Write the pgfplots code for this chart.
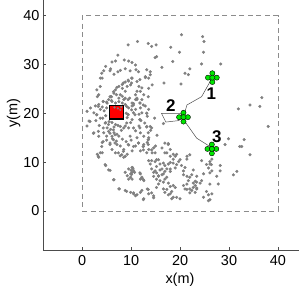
\documentclass[border=0pt]{standalone}
\usepackage{pgfplots}
\pgfplotsset{compat=1.18}
\usepackage{pgfplotstable}
\usepackage{fontspec}
\setmainfont{Liberation Sans}
\pgfplotstableread{
x y
14.2 10.3
15.2 10.5
15.9 9.6
16.3 8.6
17.3 8.6
16.9 9.3
16.6 7.6
15.6 7.2
15.2 6.5
15.9 6.2
16.9 6.5
17.3 6.9
16.6 5.9
15.6 5.5
15.2 4.8
16.6 4.5
16.9 3.8
18.0 3.5
18.6 2.8
18.3 2.5
19.3 2.8
20.0 2.5
14.6 3.1
17.6 9.6
18.0 8.6
18.6 10.6
18.0 9.9
20.3 9.3
20.7 8.2
21.0 8.9
21.4 10.6
24.4 10.3
26.5 10.6
26.1 9.6
28.2 9.3
28.2 8.2
26.5 8.2
24.8 7.6
24.4 6.2
23.4 5.9
23.1 5.2
22.0 6.9
21.7 6.2
21.4 5.5
20.7 5.2
21.0 4.5
22.0 4.5
22.4 4.2
22.7 4.8
23.4 4.5
23.1 3.8
26.1 5.5
27.8 5.5
24.8 2.8
25.8 2.1
26.5 3.5
19.0 4.8
18.6 5.2
14.2 8.6
14.6 7.9
14.9 8.2
3.4 11.0
7.8 11.3
8.5 11.0
4.8 9.3
5.4 8.4
6.5 6.4
8.8 7.9
9.5 8.6
10.2 8.9
9.9 7.6
10.5 8.2
9.2 7.2
9.5 6.5
9.9 6.9
10.2 7.9
10.2 6.5
11.9 7.6
12.2 6.9
12.6 6.2
11.9 6.5
7.5 4.5
8.8 4.2
9.9 3.8
10.5 3.5
10.9 3.1
11.9 3.8
12.2 4.2
12.6 2.5
13.3 4.5
13.6 10.3
13.9 9.6
13.6 3.5
2.7 21.5
3.4 21.8
4.1 21.3
3.7 20.8
9.5 21.1
10.2 21.5
10.9 20.8
11.9 21.1
12.9 21.5
13.6 20.8
10.5 20.1
11.6 19.8
12.2 20.1
13.3 19.4
9.2 19.1
10.2 18.7
9.9 18.1
8.8 17.4
9.5 17.0
10.5 17.0
11.6 17.4
10.9 16.4
11.9 16.0
12.6 15.3
13.6 15.0
4.8 18.1
5.4 17.7
6.1 18.1
6.8 17.7
5.1 17.0
5.8 16.7
6.5 16.0
7.1 15.7
7.5 15.3
6.1 15.3
8.2 14.7
7.8 13.3
8.5 12.6
4.4 16.0
2.4 16.0
1.4 18.4
1.0 17.4
3.4 15.3
4.1 14.0
3.1 11.6
4.1 11.9
9.2 11.6
10.2 12.3
10.9 13.3
12.6 13.6
13.3 14.0
13.6 12.6
11.9 12.3
14.3 11.9
1.7 21.1
1.0 20.4
2.4 20.1
8.8 21.8
6.8 11.9
6.1 12.6
4.5 20.5
4.8 19.5
5.0 22.3
6.0 22.6
7.5 22.4
8.5 22.8
9.0 20.0
9.3 19.8
4.2 19.0
5.5 18.3
6.5 17.2
7.3 17.5
8.0 16.5
8.5 17.0
6.2 14.8
7.0 14.3
5.0 14.5
3.5 17.5
2.8 18.5
3.0 19.7
8.2 23.5
9.7 23.1
7.0 23.8
5.8 23.4
4.3 22.4
10.5 22.0
11.2 22.8
11.8 22.1
12.5 21.7
12.0 18.5
12.8 18.0
13.2 17.2
14.0 16.5
13.5 16.0
11.2 15.0
10.0 14.5
9.0 14.2
9.5 13.5
7.3 31.9
6.8 30.7
6.1 30.5
8.6 30.9
9.5 30.7
10.2 30.4
10.9 29.9
4.8 29.6
4.4 28.7
5.8 29.1
7.3 28.5
8.8 29.1
11.0 28.9
6.5 28.0
4.1 27.2
12.9 27.3
13.6 27.2
10.2 27.2
9.5 26.6
8.8 26.4
8.2 25.9
7.5 25.5
6.8 24.8
6.5 24.1
6.0 23.4
5.4 22.8
5.1 22.1
8.2 25.1
8.8 24.5
9.2 25.5
9.9 25.8
11.2 26.5
11.6 25.5
10.9 23.8
11.9 24.5
7.5 23.1
8.8 23.1
7.8 23.8
3.7 25.5
3.1 23.4
3.4 23.8
6.1 22.4
6.8 22.1
8.2 22.1
10.2 22.1
10.9 22.8
12.2 22.8
12.6 23.8
13.6 25.1
14.3 25.8
14.2 33.7
15.2 31.6
14.9 31.4
18.1 33.5
19.9 32.5
24.8 32.5
18.5 30.6
16.3 29.4
24.4 30.1
22.0 29.1
21.0 28.2
21.7 27.9
16.7 26.2
20.2 26.0
13.9 28.5
13.9 27.9
20.3 36.1
24.6 35.7
24.9 34.7
15.1 34.0
11.3 34.7
9.4 34.0
13.5 34.3
28.3 30.1
36.7 23.2
34.3 21.7
31.9 20.9
36.3 21.4
38.0 17.3
29.9 14.8
33.1 14.6
32.6 13.2
13.9 17.3
14.2 12.5
14.9 11.9
16.3 12.9
17.6 13.8
16.9 11.9
18.0 11.2
19.0 11.2
21.4 11.2
22.0 11.5
29.2 13.6
32.2 13.2
34.3 11.5
31.6 8.1
30.9 7.4
27.5 7.1
3.7 11.9
5.7 13.6
6.7 13.9
9.4 13.6
10.5 13.2
7.4 11.9
8.4 12.2
13.2 11.9
12.5 12.5
13.5 13.6
14.2 17.0
14.6 12.9
15.0 13.3
16.9 13.9
17.6 13.6
18.0 12.6
17.3 11.9
18.6 11.6
19.3 11.6
16.6 17.9
15.3 15.5
14.8 19.0
13.5 23.4
13.2 20.0
13.2 17.3
11.8 17.0
11.8 18.7
12.5 13.2
13.5 14.6
11.5 13.9
5.7 28.7
7.8 28.8
9.8 28.7
4.0 28.2
3.7 27.2
11.5 28.5
13.2 28.9
12.9 27.5
10.1 27.2
9.4 26.8
8.4 26.2
7.1 25.3
6.4 24.4
10.1 26.2
11.8 26.9
12.2 25.2
11.2 24.5
3.0 24.8
5.7 23.4
4.3 22.4
3.3 21.4
5.0 21.1
3.0 19.7
1.6 18.3
3.7 19.0
4.7 18.0
4.3 17.0
3.3 16.3
2.3 15.9
5.4 16.3
6.4 16.6
7.8 17.3
9.1 18.0
9.4 19.7
10.1 20.7
9.1 21.4
10.5 21.7
9.4 22.8
11.2 23.1
11.8 22.1
10.8 19.7
11.8 18.7
9.8 15.3
11.5 13.9
12.5 13.2
13.5 14.6
13.2 20.0
5.7 15.9
6.7 15.6
5.0 15.3
6.4 14.6
4.3 14.2
5.7 13.9
7.1 13.6
4.0 13.2
3.3 11.2
8.1 11.5
8.8 11.2
4.7 9.5
5.7 8.3
10.0 8.3
10.4 8.6
10.7 7.9
10.1 7.5
10.3 8.9
11.8 7.8
12.2 6.7
12.5 6.4
6.4 6.4
7.6 4.5
9.1 4.0
10.5 3.7
11.2 3.3
12.5 2.3
13.5 4.4
14.2 3.7
14.6 2.7
17.6 5.7
18.0 5.0
17.3 4.4
18.3 4.0
17.6 3.3
25.8 3.3
26.1 2.3
25.4 4.0
21.4 4.4
22.0 3.7
26.1 7.8
25.8 8.8
26.4 9.5
25.4 9.5
26.1 10.1
22.7 8.4
22.4 7.4
23.4 7.1
23.1 6.1
24.1 5.7
23.4 4.7
22.7 5.7
20.7 7.4
21.4 7.1
18.0 8.1
16.9 8.1
15.9 8.4
15.2 7.8
14.6 7.1
15.6 7.1
16.3 7.4
18.6 9.8
19.3 9.5
19.7 10.1
20.0 10.5
19.0 8.8
16.6 9.8
15.2 9.1
15.6 10.5
14.9 10.1
}\dotdata
\definecolor{dotgray}{gray}{0.5}
\definecolor{boxgray}{gray}{0.55}
\definecolor{axgray}{gray}{0.3}
\definecolor{mygreen}{RGB}{0,230,0}
\begin{document}
\begin{tikzpicture}
\begin{axis}[
  scale only axis,
  width=256bp, height=250bp,
  xmin=-8, xmax=44.3, ymin=-8, ymax=43.2,
  axis x line=bottom, axis y line=left,
  axis line style={-, draw=axgray, line width=0.6pt},
  tick style={draw=axgray, line width=0.6pt},
  tick align=inside,
  major tick length=3bp,
  xtick={0,10,20,30,40}, ytick={0,10,20,30,40},
  ticklabel style={font=\fontsize{14.5}{14.5}\selectfont},
  x tick label style={yshift=-2bp},
  /pgf/number format/assume math mode=true,
  xlabel={x(m)}, ylabel={y(m)},
  label style={font=\fontsize{14.5}{14.5}\selectfont},
  x label style={at={(axis description cs:0.535,-0.12)}, anchor=center},
  y label style={at={(axis description cs:-0.115,0.547)}, anchor=center},
  clip=false,
]
\coordinate (A) at (rel axis cs:0,0);
\coordinate (B) at (rel axis cs:1,1);
\addplot[draw=boxgray, line width=0.8pt, dash pattern=on 5bp off 3.5bp] coordinates {(0,0) (40,0) (40,40) (0,40) (0,0)};
\addplot[only marks, mark=*, mark size=1.35bp, draw=dotgray, fill=dotgray] table[x=x,y=y] {\dotdata};
\addplot[fill=red, draw=black, line width=1.3pt] coordinates {(5.6,18.8) (8.5,18.8) (8.5,21.6) (5.6,21.6)} -- cycle;
\addplot[only marks, mark=*, mark size=0.9bp, draw=dotgray, fill=dotgray] coordinates {(6.6,21.2) (7.3,21.0) (8.0,21.3) (7.8,20.7)};
\addplot[draw=axgray, line width=0.5pt] coordinates {(26.6,27.3) (24.4,23.4) (21.4,21.7) (20.7,19.2)};
\addplot[draw=axgray, line width=0.5pt] coordinates {(20.7,19.2) (20.0,20.0) (16.2,20.0) (17.1,18.2) (19.7,18.5) (20.7,19.2)};
\addplot[draw=axgray, line width=0.5pt] coordinates {(20.7,19.2) (21.0,18.3) (23.4,14.9) (26.1,13.2) (26.5,12.7)};
\addplot[only marks, mark=*, mark size=2.6bp, draw=black, fill=mygreen, line width=0.4pt] coordinates {
(26.6,28.2) (26.6,26.4) (25.7,27.3) (27.5,27.3) (26.6,27.3)
(20.7,20.1) (20.7,18.3) (19.8,19.2) (21.6,19.2) (20.7,19.2)
(26.5,13.6) (26.5,11.8) (25.6,12.7) (27.4,12.7) (26.5,12.7)
};
\node[font=\bfseries\fontsize{17}{17}\selectfont] at (axis cs:26.4,24.0) {1};
\node[font=\bfseries\fontsize{17}{17}\selectfont] at (axis cs:18.1,21.6) {2};
\node[font=\bfseries\fontsize{17}{17}\selectfont] at (axis cs:27.5,15.3) {3};
\end{axis}
\pgfresetboundingbox
\path ([shift={(-43bp,-38bp)}]A) rectangle (B);
\end{tikzpicture}
\end{document}
